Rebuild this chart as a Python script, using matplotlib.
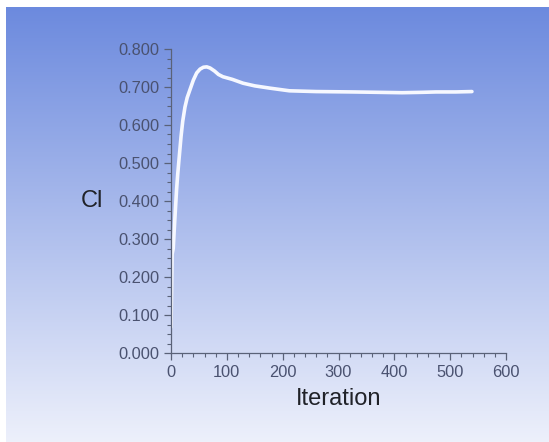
import matplotlib
matplotlib.use("Agg")
import matplotlib.pyplot as plt
import numpy as np
from matplotlib.ticker import MultipleLocator, FormatStrFormatter

# data
iteration = [0, 1, 2, 4, 6, 8, 10, 12, 15, 18, 21, 25, 29, 34, 40, 46, 52, 58,
             64, 70, 78, 85, 93, 110, 129, 150, 177, 212, 260, 325, 370, 414,
             450, 475, 510, 539]
cl = [0.068, 0.16, 0.26, 0.275, 0.33, 0.38, 0.43, 0.47, 0.52, 0.57, 0.61, 0.647,
      0.672, 0.693, 0.718, 0.737, 0.747, 0.752, 0.753, 0.75, 0.742, 0.733, 0.727,
      0.72, 0.71, 0.703, 0.697, 0.690, 0.688, 0.687, 0.686, 0.685, 0.686, 0.687,
      0.687, 0.688]

plt.rcParams['font.family'] = ['Liberation Sans', 'DejaVu Sans']

fig = plt.figure(figsize=(5.49, 4.42), dpi=100)
fig.patch.set_facecolor('white')

# gradient background (blue at top, pale at bottom), white strip top/left
bg = fig.add_axes([6 / 549, 0, 1 - 6 / 549, 1 - 7 / 442])
top = np.array([108, 138, 222]) / 255
bot = np.array([237, 240, 251]) / 255
t = np.linspace(0, 1, 256)[:, None]
grad = (top[None, :] * (1 - t) + bot[None, :] * t)[:, None, :]
bg.imshow(grad, aspect='auto', extent=[0, 1, 0, 1])
bg.set_axis_off()

ax = fig.add_axes([171 / 549, 89 / 442, 335 / 549, 304 / 442])
ax.patch.set_alpha(0)
ax.plot(iteration, cl, color='#f6f8ff', lw=2.6, solid_capstyle='round',
        solid_joinstyle='round')

ax.set_xlim(0, 600)
ax.set_ylim(0, 0.8)
ax.xaxis.set_major_locator(MultipleLocator(100))
ax.xaxis.set_minor_locator(MultipleLocator(20))
ax.yaxis.set_major_locator(MultipleLocator(0.1))
ax.yaxis.set_minor_locator(MultipleLocator(0.025))
ax.yaxis.set_major_formatter(FormatStrFormatter('%.3f'))

axcol = '#5a6278'
for s in ['top', 'right']:
    ax.spines[s].set_visible(False)
for s in ['left', 'bottom']:
    ax.spines[s].set_color(axcol)
    ax.spines[s].set_linewidth(0.9)
ax.tick_params(which='major', length=5, color=axcol, width=0.9,
               labelsize=11.8, labelcolor='#4a5270')
ax.tick_params(which='minor', length=3, color=axcol, width=0.8)

ax.set_xlabel('Iteration', fontsize=17, color='#202228', labelpad=6)
ax.set_ylabel('Cl', fontsize=17, color='#202228', rotation=0, labelpad=14, va='center')
ax.yaxis.set_label_coords(-0.235, 0.5)

fig.savefig('out.png', dpi=100)
